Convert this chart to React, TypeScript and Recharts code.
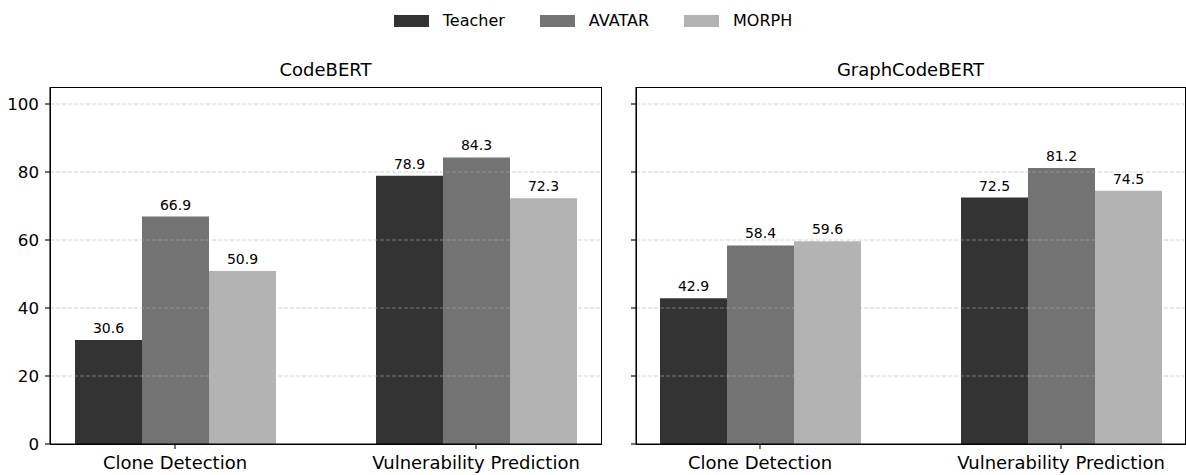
import React from 'react';
import { BarChart, Bar, XAxis, YAxis, ReferenceLine, LabelList } from 'recharts';

const categories = ['Clone Detection', 'Vulnerability Prediction'];
const seriesNames = ['Teacher', 'AVATAR', 'MORPH'];
const seriesKeys = ['teacher', 'avatar', 'morph'];

// CodeBERT panel
const codebertTeacher = [30.6, 78.9];
const codebertAvatar = [66.9, 84.3];
const codebertMorph = [50.9, 72.3];

// GraphCodeBERT panel
const graphTeacher = [42.9, 72.5];
const graphAvatar = [58.4, 81.2];
const graphMorph = [59.6, 74.5];

const yTicks = [0, 20, 40, 60, 80, 100];

const COLORS = ['#333333', '#737373', '#b3b3b3'];
const FONT = '"DejaVu Sans", sans-serif';

const buildRows = (teacher: number[], avatar: number[], morph: number[]) =>
  categories.map((c, i) => ({ category: c, teacher: teacher[i], avatar: avatar[i], morph: morph[i] }));

interface PanelProps {
  title: string;
  rows: ReturnType<typeof buildRows>;
  left: number;
  yWidth: number;
  chartWidth: number;
  marginRight: number;
  pad: number;
  showYLabels: boolean;
}

const NoTick = () => <g />;

const Panel: React.FC<PanelProps> = ({ title, rows, left, yWidth, chartWidth, marginRight, pad, showYLabels }) => {
  const plotLeft = left + yWidth;
  const plotWidth = chartWidth - yWidth - marginRight;
  return (
    <>
      <div
        style={{
          position: 'absolute',
          left: plotLeft,
          width: plotWidth,
          top: 61,
          textAlign: 'center',
          fontSize: 18,
          lineHeight: '18px',
          color: '#000',
        }}
      >
        {title}
      </div>
      <div style={{ position: 'absolute', left, top: 60 }}>
        <BarChart
          width={chartWidth}
          height={415}
          data={rows}
          margin={{ top: 27, right: marginRight, left: 0, bottom: 0 }}
          barGap={0}
          barCategoryGap={50.5}
        >
          <XAxis
            dataKey="category"
            height={31}
            padding={{ left: pad, right: pad }}
            tickSize={5}
            tickMargin={7}
            axisLine={{ stroke: '#000', strokeWidth: 1.1 }}
            tickLine={{ stroke: '#000', strokeWidth: 1.1 }}
            tick={{ fontSize: 18, fill: '#000' }}
          />
          <YAxis
            width={yWidth}
            type="number"
            domain={[0, 105]}
            ticks={yTicks}
            tickSize={5}
            tickMargin={6}
            axisLine={{ stroke: '#000', strokeWidth: 1.1 }}
            tickLine={{ stroke: '#000', strokeWidth: 1.1 }}
            tick={showYLabels ? { fontSize: 16.7, fill: '#000' } : NoTick}
          />
          {seriesKeys.map((k, i) => (
            <Bar key={k} dataKey={k} name={seriesNames[i]} fill={COLORS[i]} isAnimationActive={false}>
              <LabelList
                dataKey={k}
                position="top"
                offset={7}
                fontSize={14}
                fill="#000"
                formatter={(v: number) => Number(v).toFixed(1)}
              />
            </Bar>
          ))}
          {yTicks.filter((t) => t > 0).map((t) => (
            <ReferenceLine key={t} y={t} stroke="#b0b0b0" strokeOpacity={0.6} strokeWidth={0.9} strokeDasharray="4 2" />
          ))}
        </BarChart>
      </div>
      {/* axes frame */}
      <div
        style={{
          position: 'absolute',
          boxSizing: 'border-box',
          left: plotLeft - 0.5,
          top: 86.5,
          width: plotWidth + 1,
          height: 358,
          border: '1px solid #000',
          pointerEvents: 'none',
        }}
      />
    </>
  );
};

const Legend: React.FC = () => (
  <div
    style={{
      position: 'absolute',
      left: 0,
      top: 13,
      width: 1186,
      height: 16,
      display: 'flex',
      justifyContent: 'center',
      alignItems: 'center',
      fontSize: 16,
      lineHeight: '16px',
      color: '#000',
    }}
  >
    {seriesNames.map((n, i) => (
      <div key={n} style={{ display: 'flex', alignItems: 'center', marginLeft: i === 0 ? 0 : 35 }}>
        <span style={{ width: 35, height: 12, background: COLORS[i], marginRight: 14, display: 'inline-block' }} />
        <span>{n}</span>
      </div>
    ))}
  </div>
);

const App: React.FC = () => (
  <div
    style={{
      position: 'absolute',
      left: 0,
      top: 0,
      width: 1186,
      height: 475,
      background: '#fff',
      overflow: 'hidden',
      fontFamily: FONT,
    }}
  >
    <Legend />
    <Panel
      title="CodeBERT"
      rows={buildRows(codebertTeacher, codebertAvatar, codebertMorph)}
      left={0}
      yWidth={50}
      chartWidth={610}
      marginRight={9}
      pad={-25.5}
      showYLabels
    />
    <Panel
      title="GraphCodeBERT"
      rows={buildRows(graphTeacher, graphAvatar, graphMorph)}
      left={585}
      yWidth={51}
      chartWidth={601}
      marginRight={1}
      pad={-26.5}
      showYLabels={false}
    />
  </div>
);

export default App;
